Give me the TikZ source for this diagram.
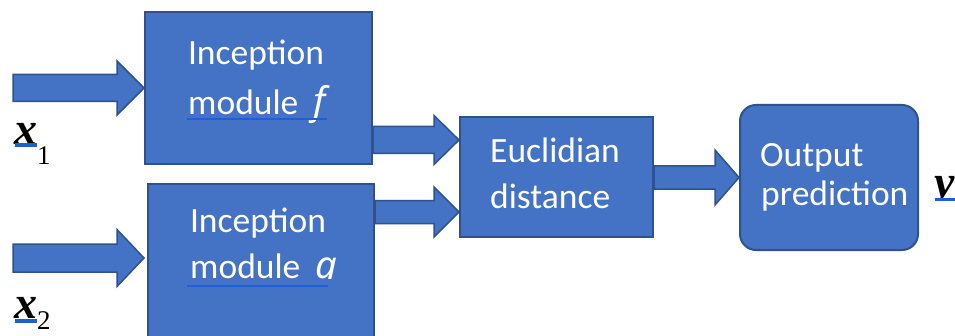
\documentclass[tikz,border=0pt]{standalone}
\usepackage{fontspec}
\setmainfont{Carlito}
\newfontfamily\mathserif{Liberation Serif}
\newfontfamily\fnfont{Noto Sans}
\usetikzlibrary{calc}

\definecolor{boxfill}{HTML}{4472C4}
\definecolor{boxline}{HTML}{2F528F}
\definecolor{ulblue}{HTML}{1F5FD6}

% horizontal block arrow ending at the y of its target
\newcommand{\blockarrow}[5]{%
  \path[blockarrowstyle] let \p1=(#1), \p2=(#2) in
    (\x1,\y2+#3) -- (\x2-#5,\y2+#3) -- (\x2-#5,\y2+#4) -- (\x2,\y2)
    -- (\x2-#5,\y2-#4) -- (\x2-#5,\y2-#3) -- (\x1,\y2-#3) -- cycle;}

\newcommand{\fnname}[1]{{\fnfont\itshape\fontsize{38}{40}\selectfont #1}}

\tikzset{
  x=1pt, y=1pt,
  block/.style={draw=boxline, fill=boxfill, line width=2pt, inner sep=0pt},
  blockarrowstyle/.style={draw=boxline, fill=boxfill, line width=1.5pt, line join=miter},
  boxtext/.style={text=white, inner sep=0pt, font=\fontsize{35.5}{40}\selectfont},
  uline/.style={draw=ulblue, line width=2.5pt},
  varlabel/.style={inner sep=0pt, anchor=base west, font=\mathserif\fontsize{46}{46}\selectfont\bfseries\itshape},
  sublabel/.style={inner sep=0pt, anchor=base west, font=\mathserif\fontsize{27}{27}\selectfont},
}

\begin{document}
\begin{tikzpicture}
\useasboundingbox (0,0) rectangle (955,335);
\clip (0,0) rectangle (955,335);
\fill[white] (0,0) rectangle (955,335);

% processing blocks
\node[block, minimum width=227pt, minimum height=152pt] (f) at (258.5,247) {};
\node[block, minimum width=226pt, minimum height=160pt] (g) at (261,71) {};
\node[block, minimum width=193pt, minimum height=120pt] (E) at (556.5,158) {};
\node[block, rounded corners=16pt, minimum width=178pt, minimum height=145pt] (O) at (829,157.5) {};

% block texts
\node[boxtext, anchor=base] (ft1) at (256,270) {Inception};
\node[boxtext, anchor=base west] (ft2) at (188,220) {module\hspace{0.42em}\fnname{f}};
\draw[uline] (187,216) -- (327,216);

\node[boxtext, anchor=base] (gt1) at (258,103) {Inception};
\begin{scope}
  \clip (150,57) rectangle (370,150);
  \node[boxtext, anchor=base west] (gt2) at (190,57) {module\hspace{0.42em}\fnname{g}};
\end{scope}
\draw[uline] (187,49) -- (328,49);

\node[boxtext, anchor=base west] (et1) at (490,172) {Euclidian};
\node[boxtext, anchor=base west] (et2) at (490,127) {distance};

\node[boxtext, anchor=base west] (ot1) at (760,168) {Output};
\node[boxtext, anchor=base west] (ot2) at (761,130) {prediction};

% input / output labels
\node[varlabel] (x1) at (14,190) {x};
\node[sublabel] (s1) at (37,170) {1};
\draw[uline, line width=3.5pt] (15,190) -- (37,190);

\node[varlabel] (x2) at (14,17) {x};
\node[sublabel] (s2) at (37,6) {2};
\draw[uline, line width=3.5pt] (15,14) -- (37,14);

\begin{scope}
  \clip (925,138) rectangle (955,200);
  \node[varlabel] (yl) at (934,138) {y};
\end{scope}
\draw[uline, line width=3pt] (935,136) -- (955,136);

% free ends of the input arrows
\coordinate (in1) at (13,247);
\coordinate (in2) at (13,77);

% block arrows
\blockarrow{in1}{f.west}{13.5pt}{27pt}{27pt}
\blockarrow{in2}{$(g.west)+(-3,6)$}{14pt}{28.5pt}{27pt}
\blockarrow{f.east}{$(E.west)+(0,37)$}{13.5pt}{24.5pt}{25pt}
\blockarrow{g.east}{$(E.west)+(0,-35)$}{11.5pt}{25pt}{25pt}
\blockarrow{E.east}{O.west}{11.5pt}{27.5pt}{24pt}
\end{tikzpicture}
\end{document}
